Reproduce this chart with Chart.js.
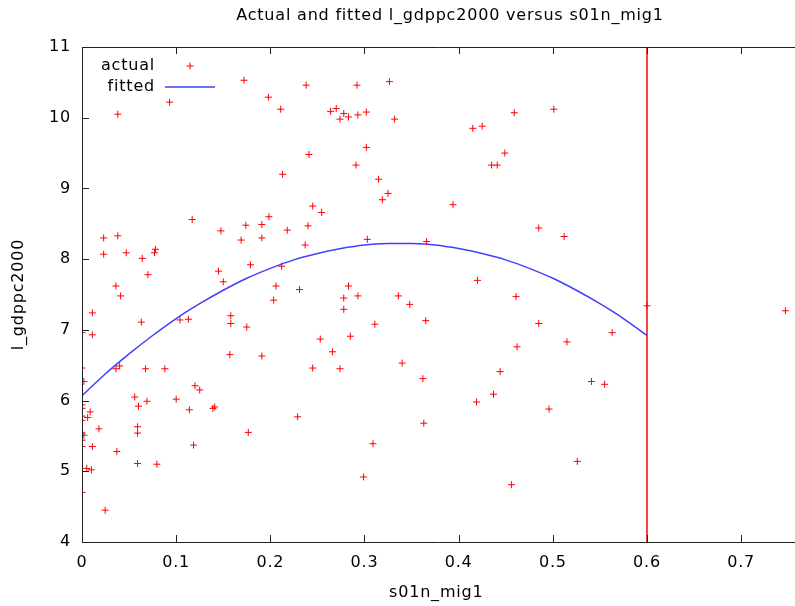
<!DOCTYPE html>
<html>
<head>
<meta charset="utf-8">
<script src="https://cdn.jsdelivr.net/npm/chart.js@4.4.1/dist/chart.umd.min.js"></script>
<style>
html,body{margin:0;padding:0;background:#fff;}
#wrap{width:795px;height:606px;position:relative;}
</style>
</head>
<body>
<div id="wrap"><canvas id="c" width="795" height="606"></canvas></div>
<script>
const chartTitle = "Actual and fitted l_gdppc2000 versus s01n_mig1";
const xLabel = "s01n_mig1";
const yLabel = "l_gdppc2000";
const legendLabels = ["actual", "fitted"];

const actualX = [
0.172,0.093,0.038,0.117,0.023,0.038,0.023,0.047,0.064,0.078,
0.077,0.070,0.036,0.041,0.1475,0.174,0.169,0.179,0.145,0.150,
0.011,0.063,0.011,0.000,0.000,0.002,0.036,0.040,0.0675,0.088,
0.104,0.113,0.158,0.158,0.175,0.157,0.056,0.060,0.069,0.100,
0.120,0.125,0.114,0.139,0.141,0.1766,0.059,0.059,0.018,0.037,
0.1185,0.059,0.0795,0.011,0.005,0.010,0.0246,0.000,0.000,0.000,
0.0087,0.000,0.006,0.000,0.000,0.002,0.000,0.000,0.238,0.292,
0.198,0.211,0.264,0.270,0.278,0.274,0.283,0.293,0.302,0.3265,
0.332,0.241,0.302,0.291,0.213,0.315,0.325,0.319,0.245,0.2545,
0.1985,0.191,0.191,0.218,0.240,0.237,0.303,0.366,0.212,0.206,
0.231,0.283,0.278,0.293,0.336,0.2035,0.278,0.348,0.311,0.365,
0.253,0.285,0.266,0.191,0.245,0.274,0.340,0.362,0.229,0.363,
0.309,0.299,0.501,0.459,0.415,0.425,0.449,0.435,0.441,0.394,
0.485,0.512,0.420,0.461,0.485,0.462,0.515,0.563,0.600,0.444,
0.437,0.419,0.541,0.555,0.496,0.526,0.456,0.747
];
const actualY = [
10.53,10.22,10.05,8.56,8.30,8.33,8.07,8.09,8.01,8.14,
8.09,7.78,7.62,7.48,8.40,8.48,8.27,7.92,7.83,7.68,
7.24,7.11,6.93,6.96,6.46,6.27,6.45,6.49,6.45,6.45,
7.14,7.15,7.20,7.09,7.04,6.65,6.05,5.92,5.99,6.02,
6.21,6.15,5.87,5.89,5.91,5.55,5.63,5.54,5.60,5.28,
5.37,5.11,5.10,5.35,5.04,5.02,4.45,4.70,5.94,5.89,
5.84,5.78,5.76,5.72,5.54,5.51,5.44,5.35,10.46,10.46,
10.29,10.12,10.09,10.13,10.06,9.98,10.01,10.04,10.08,10.51,
9.98,9.48,9.58,9.33,9.20,9.13,8.93,8.84,8.75,8.66,
8.60,8.49,8.30,8.41,8.47,8.20,8.28,8.25,7.90,7.62,
7.57,7.62,7.45,7.48,7.48,7.42,7.29,7.36,7.08,7.13,
6.87,6.91,6.69,6.63,6.46,6.45,6.53,6.31,5.77,5.68,
5.39,4.92,10.12,10.07,9.85,9.88,9.50,9.33,9.33,8.77,
8.44,8.32,7.70,7.47,7.09,6.76,6.83,6.96,7.34,6.41,
6.09,5.98,6.27,6.23,5.88,5.14,4.81,7.27
];

const fittedX = [0,0.025,0.05,0.075,0.1,0.125,0.15,0.175,0.2,0.225,0.25,0.275,0.3,
                 0.325,0.35,0.375,0.4,0.425,0.45,0.475,0.5,0.525,0.55,0.575,0.6];
const fittedY = [6.07,6.38,6.66,6.92,7.16,7.37,7.56,7.73,7.87,7.99,8.08,8.15,8.20,
                 8.22,8.22,8.20,8.15,8.08,7.99,7.87,7.73,7.56,7.37,7.16,6.92];

const markerLineX = [0.6, 0.6];
const markerLineY = [4, 11];

const xTicks = [0,0.1,0.2,0.3,0.4,0.5,0.6,0.7];
const yTicks = [4,5,6,7,8,9,10,11];

const FONT = "'DejaVu Sans', Verdana, sans-serif";
const RED = '#ff0000';
const BLUE = '#4040ff';

const toPts = (xs, ys) => xs.map((x, i) => ({x: x, y: ys[i]}));

const spacingPlugin = {
  id: 'spacing',
  beforeInit(chart) { chart.ctx.letterSpacing = '0.8px'; },
  beforeUpdate(chart) { chart.ctx.letterSpacing = '0.8px'; },
  afterLayout(chart) {
    const t = chart.titleBlock;
    if (t) { t.left = 105; t.right = 795; }
  },
  beforeDraw(chart) { chart.ctx.letterSpacing = '0.8px'; }
};

const framePlugin = {
  id: 'frame',
  afterDatasetsDraw(chart) {
    const {ctx, chartArea: a, scales} = chart;
    const xs = scales.x, ys = scales.y;
    const W = chart.width;
    ctx.save();
    ctx.strokeStyle = '#222';
    ctx.lineWidth = 1;
    ctx.beginPath();
    ctx.moveTo(W, a.top + 0.5); ctx.lineTo(a.left + 0.5, a.top + 0.5);
    ctx.lineTo(a.left + 0.5, a.bottom + 0.5); ctx.lineTo(W, a.bottom + 0.5);
    ctx.stroke();
    const tl = 7;
    ctx.beginPath();
    xTicks.forEach(v => {
      const px = Math.round(xs.getPixelForValue(v)) + 0.5;
      ctx.moveTo(px, a.bottom); ctx.lineTo(px, a.bottom - tl);
      ctx.moveTo(px, a.top); ctx.lineTo(px, a.top + tl);
    });
    yTicks.forEach(v => {
      const py = Math.round(ys.getPixelForValue(v)) + 0.5;
      ctx.moveTo(a.left, py); ctx.lineTo(a.left + tl, py);
    });
    ctx.stroke();
    ctx.restore();
  },
  afterDraw(chart) {
    const {ctx, chartArea: a} = chart;
    ctx.save();
    ctx.letterSpacing = '0.8px';
    ctx.font = '16px ' + FONT;
    ctx.fillStyle = '#000';
    ctx.textAlign = 'right';
    ctx.textBaseline = 'middle';
    const tx = a.left + 73, y1 = a.top + 19, y2 = a.top + 40;
    ctx.fillText(legendLabels[0], tx, y1);
    ctx.fillText(legendLabels[1], tx, y2);
    const cx = a.left + 108;
    ctx.strokeStyle = RED; ctx.lineWidth = 1;
    ctx.beginPath();
    ctx.moveTo(cx - 3.5, y1); ctx.lineTo(cx + 3.5, y1);
    ctx.moveTo(cx, y1 - 3.5); ctx.lineTo(cx, y1 + 3.5);
    ctx.stroke();
    ctx.strokeStyle = BLUE; ctx.lineWidth = 1.5;
    ctx.beginPath();
    ctx.moveTo(a.left + 83, y2); ctx.lineTo(a.left + 133, y2);
    ctx.stroke();
    ctx.restore();
  }
};

new Chart(document.getElementById('c'), {
  type: 'scatter',
  data: {
    datasets: [
      {
        label: legendLabels[0],
        data: toPts(actualX, actualY),
        showLine: false,
        pointStyle: 'cross',
        pointRadius: 3.5,
        pointHoverRadius: 3.5,
        borderColor: RED,
        backgroundColor: RED,
        pointBorderWidth: 1,
        borderWidth: 1
      },
      {
        label: legendLabels[1],
        data: toPts(fittedX, fittedY),
        showLine: true,
        pointRadius: 0,
        borderColor: BLUE,
        borderWidth: 1.5,
        tension: 0.3,
        fill: false
      },
      {
        label: 'marker',
        data: toPts(markerLineX, markerLineY),
        showLine: true,
        pointRadius: 0,
        borderColor: RED,
        borderWidth: 1.5,
        fill: false
      }
    ]
  },
  options: {
    responsive: false,
    animation: false,
    devicePixelRatio: 1,
    layout: {padding: {left: 0, right: 0, top: 0, bottom: 0}},
    plugins: {
      legend: {display: false},
      tooltip: {enabled: false},
      title: {
        display: true,
        text: chartTitle,
        color: '#000',
        font: {family: FONT, size: 16, weight: 'normal', lineHeight: 1.2},
        padding: {top: 6, bottom: 21.8}
      }
    },
    scales: {
      x: {
        type: 'linear',
        min: 0,
        max: 0.7524,
        grid: {display: false, drawTicks: false},
        border: {display: false},
        ticks: {
          stepSize: 0.1,
          includeBounds: false,
          color: '#000',
          padding: 11,
          maxRotation: 0,
          font: {family: FONT, size: 16},
          callback: v => String(Math.round(v * 10) / 10)
        },
        title: {
          display: true,
          text: xLabel,
          color: '#000',
          font: {family: FONT, size: 16},
          padding: {top: 0, bottom: 4}
        },
        afterFit: s => { s.height = 64; s.paddingRight = 0; s.paddingLeft = 0; }
      },
      y: {
        type: 'linear',
        min: 4,
        max: 11,
        grid: {display: false, drawTicks: false},
        border: {display: false},
        ticks: {
          stepSize: 1,
          color: '#000',
          padding: 11,
          font: {family: FONT, size: 16}
        },
        title: {
          display: true,
          text: yLabel,
          color: '#000',
          font: {family: FONT, size: 16},
          padding: {top: 9, bottom: 0}
        },
        afterFit: s => { s.width = 82; s.paddingTop = 0; s.paddingBottom = 0; }
      }
    }
  },
  plugins: [spacingPlugin, framePlugin]
});
</script>
</body>
</html>
